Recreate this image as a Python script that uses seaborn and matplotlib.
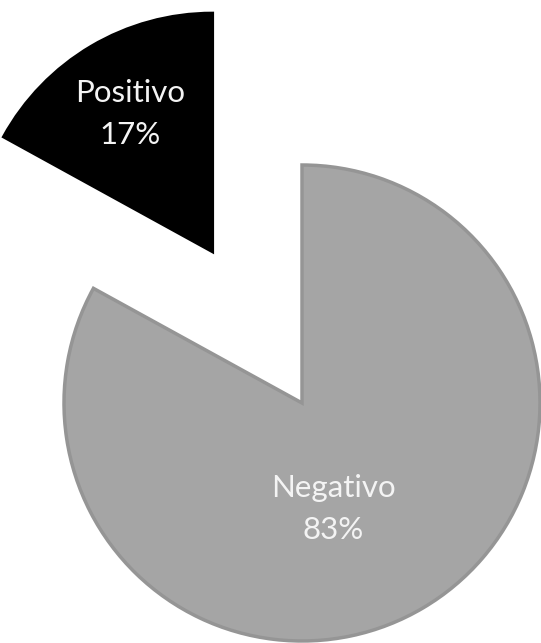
import matplotlib
matplotlib.use("Agg")
import matplotlib.pyplot as plt
import seaborn as sns

# Sentiment shares
labels = ["Negativo", "Positivo"]
shares = [83, 17]
colors = ["#a5a5a5", "#000000"]
edge_colors = ["#959595", "#000000"]
explode_frac = [0.0, 0.74]

sns.set_theme(style="white")
plt.rcParams["font.family"] = ["Lato", "DejaVu Sans"]

W, H = 541, 643
fig = plt.figure(figsize=(W / 100, H / 100), dpi=100)
ax = fig.add_axes([0, 0, 1, 1])

center = (302, 240)
radius = 238
# matplotlib offsets exploded wedges in data units, so scale by the radius
wedges, _ = ax.pie(
    shares,
    colors=colors,
    explode=[e * radius for e in explode_frac],
    startangle=90,
    counterclock=False,
    center=center,
    radius=radius,
    wedgeprops=dict(linewidth=2.5),
    frame=True,
)
for w, ec in zip(wedges, edge_colors):
    w.set_edgecolor(ec)
    w.set_joinstyle("miter")
ax.set_xlim(0, W)
ax.set_ylim(0, H)
ax.set_aspect("equal")
ax.axis("off")

# Data labels: category name and percentage
label_pos = {"Negativo": (333, H - 509), "Positivo": (130, H - 114)}
for lab, val in zip(labels, shares):
    x, y = label_pos[lab]
    ax.text(x, y, f"{lab}\n{val}%", ha="center", va="center",
            color="#f4f4f4", fontsize=22.5, linespacing=1.6)

fig.savefig("out.png", dpi=100, facecolor="white")
